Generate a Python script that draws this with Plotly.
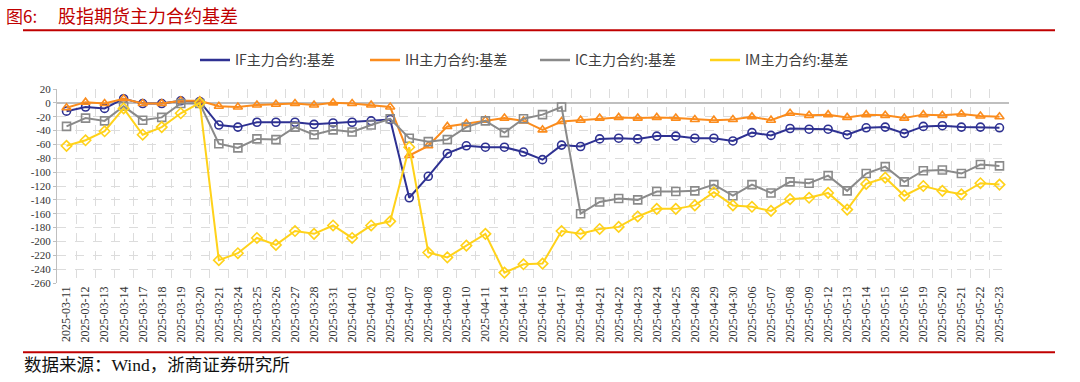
import plotly.graph_objects as go

dates = ["2025-03-11","2025-03-12","2025-03-13","2025-03-14","2025-03-17","2025-03-18","2025-03-19","2025-03-20",
         "2025-03-21","2025-03-24","2025-03-25","2025-03-26","2025-03-27","2025-03-28","2025-03-31","2025-04-01",
         "2025-04-02","2025-04-03","2025-04-07","2025-04-08","2025-04-09","2025-04-10","2025-04-11","2025-04-14",
         "2025-04-15","2025-04-16","2025-04-17","2025-04-18","2025-04-21","2025-04-22","2025-04-23","2025-04-24",
         "2025-04-25","2025-04-28","2025-04-29","2025-04-30","2025-05-06","2025-05-07","2025-05-08","2025-05-09",
         "2025-05-12","2025-05-13","2025-05-14","2025-05-15","2025-05-16","2025-05-19","2025-05-20","2025-05-21",
         "2025-05-22","2025-05-23"]

if_basis = [-12,-6,-8,6,-1,-1,3,2,-32,-35,-28,-28,-28,-31,-29,-28,
            -26,-24,-137,-106,-73,-62,-64,-64,-71,-82,-61,-63,-52,-51,-52,-48,
            -48,-51,-51,-55,-43,-47,-37,-38,-38,-46,-36,-35,-44,-34,-33,-35,-35,-36]
ih_basis = [-7,1,-1,6,-1,-1,3,3,-5,-6,-3,-2,-1,-3,0,-1,
            -3,-6,-76,-62,-34,-30,-25,-22,-26,-39,-27,-25,-22,-21,-22,-21,
            -22,-24,-25,-24,-20,-25,-15,-18,-17,-21,-17,-18,-22,-17,-18,-16,-19,-20]
ic_basis = [-34,-22,-26,-5,-25,-21,-1,-1,-59,-65,-52,-53,-35,-46,-39,-42,
            -32,-23,-51,-56,-53,-35,-26,-43,-23,-17,-6,-160,-143,-138,-140,-128,
            -128,-127,-118,-134,-118,-130,-114,-116,-105,-127,-102,-92,-114,-98,-97,-102,-89,-91]
im_basis = [-62,-54,-41,-8,-46,-35,-15,0,-227,-217,-195,-205,-185,-189,-177,-195,
            -177,-171,-64,-216,-223,-206,-189,-245,-233,-232,-185,-189,-182,-179,-164,-153,
            -153,-148,-129,-148,-150,-156,-139,-137,-130,-154,-117,-108,-134,-120,-127,-132,-116,-118]

series_names = ["IF主力合约:基差", "IH主力合约:基差", "IC主力合约:基差", "IM主力合约:基差"]
series_vals = [if_basis, ih_basis, ic_basis, im_basis]
colors = ["#2e3192", "#fb8c1d", "#8a8a8a", "#ffd21a"]
symbols = ["circle-open", "triangle-up-open", "square-open", "diamond-open"]
y_ticks = list(range(-260, 21, 20))

fig = go.Figure()
for name, vals, c, s in zip(series_names, series_vals, colors, symbols):
    fig.add_trace(go.Scatter(x=dates, y=vals, mode="lines+markers", name=name, showlegend=False,
                             line=dict(color=c, width=2),
                             marker=dict(symbol=s, size=8, color=c, line=dict(width=1.6, color=c))))
# legend-only entries (line without marker, as in the reference legend)
for name, c in zip(series_names, colors):
    fig.add_trace(go.Scatter(x=[dates[0]], y=[None], mode="lines", name=name,
                             line=dict(color=c, width=2.5)))

serif = "Liberation Serif, Times New Roman, Noto Sans CJK SC, serif"
cjk = "Noto Sans CJK SC"

L, R, T, B = 57, 1009, 88.7, 282.7
W, H = R - L, B - T
def px(x):
    return (x - L) / W
def py(y):
    return (B - y) / H

fig.update_layout(
    width=1080, height=382,
    margin=dict(l=L, r=1080 - R, t=T, b=382 - B, autoexpand=False),
    paper_bgcolor="white", plot_bgcolor="white",
    showlegend=True,
    legend=dict(orientation="h", x=px(195), xanchor="left", y=py(60), yanchor="middle",
                font=dict(family=cjk, size=14, color="#404040"),
                entrywidth=125, entrywidthmode="pixels", itemwidth=30,
                bgcolor="rgba(0,0,0,0)"),
    xaxis=dict(type="category", categoryorder="array", categoryarray=dates,
               range=[-0.5, len(dates) - 0.5], tickangle=-90, tickson="boundaries",
               showgrid=True, gridcolor="#dcdcdc", griddash="dash", gridwidth=1,
               ticks="", showline=False, zeroline=False,
               tickfont=dict(family=serif, size=12, color="#333333")),
    yaxis=dict(range=[-260, 20], tickvals=y_ticks, ticktext=[str(v) for v in y_ticks],
               showgrid=True, gridcolor="#dcdcdc", griddash="dash", gridwidth=1,
               zeroline=True, zerolinecolor="#bfbfbf", zerolinewidth=1.5,
               showline=True, linecolor="#bfbfbf", linewidth=1,
               ticks="outside", ticklen=3, tickcolor="#bfbfbf",
               tickfont=dict(family=serif, size=11, color="#333333")),
    annotations=[
        dict(text="图6:", xref="paper", yref="paper", x=px(4), y=py(15),
             xanchor="left", yanchor="middle", showarrow=False,
             font=dict(family=cjk, size=17, color="#c00000")),
        dict(text="股指期货主力合约基差", xref="paper", yref="paper", x=px(56), y=py(15),
             xanchor="left", yanchor="middle", showarrow=False,
             font=dict(family=cjk, size=18, color="#c00000")),
        dict(text="数据来源：Wind，浙商证券研究所", xref="paper", yref="paper", x=px(22), y=py(365),
             xanchor="left", yanchor="middle", showarrow=False,
             font=dict(family="Liberation Serif, Noto Sans CJK SC", size=17.5, color="#111111")),
    ],
    shapes=[
        dict(type="line", xref="paper", yref="paper", x0=px(23), x1=px(1055),
             y0=py(30), y1=py(30), line=dict(color="#c00000", width=2)),
        dict(type="line", xref="paper", yref="paper", x0=px(23), x1=px(1055),
             y0=py(352), y1=py(352), line=dict(color="#c00000", width=2)),
    ],
)

fig.write_html("out.html", config={"displayModeBar": False},
               post_script="document.body.style.margin='0';")
